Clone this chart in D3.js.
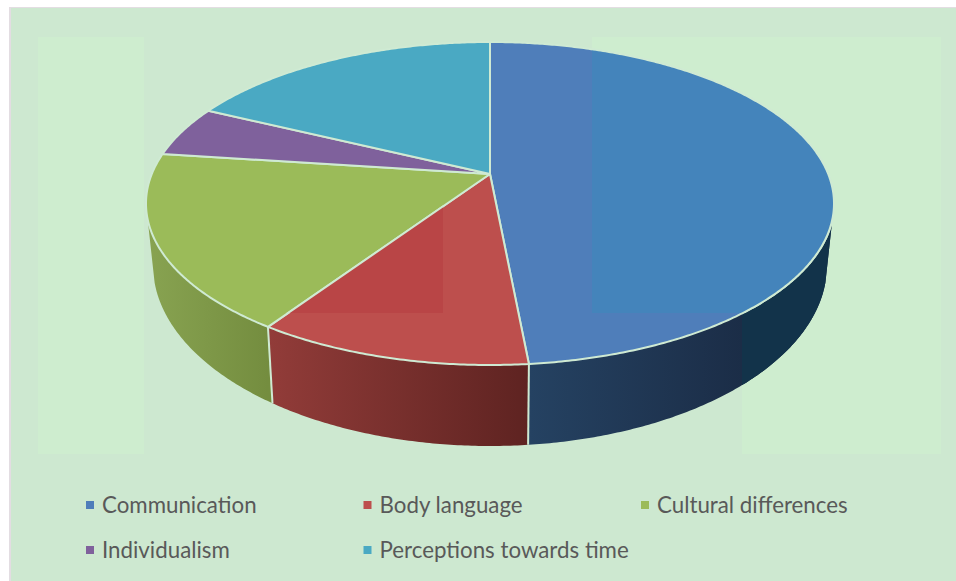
<!DOCTYPE html>
<html>
<head>
<meta charset="utf-8">
<script src="https://cdn.jsdelivr.net/npm/d3@7"></script>
<style>
  html, body { margin: 0; padding: 0; background: #fff; overflow: hidden; }
  svg { display: block; }
  text { font-family: Lato, "Open Sans", sans-serif; }
</style>
</head>
<body>
<svg id="chart"></svg>
<script>
const categories = ['Communication', 'Body language', 'Cultural differences', 'Individualism', 'Perceptions towards time'];
const values = [48.5, 10.9, 17.7, 5.1, 17.8];
const topColors = ['#4f7eba', '#bd4f4d', '#9bbb59', '#7f619c', '#4aa9c3'];
const wallLeftColors = ['#254262', '#923c39', '#88a351'];
const wallRightColors = ['#1b2d47', '#5e2321', '#748d3f'];

const svgWidth = 956;
const svgHeight = 581;
const bgColor = '#cde8d0';
const lightColor = '#ceedcf';
const lineColor = '#cfeAd3';
const lineWidth = 2;

// perspective: the top is an ellipse whose apex sits above its middle
const topRim = { cx: 490, cy: 203.5, rx: 344, ry: 161.5 };
const bottomRim = { cx: 490, cy: 265, rx: 337, ry: 181 };
const tilt = 0.1827;
const apex = [topRim.cx, topRim.cy - topRim.ry * tilt];
const wallStart = 106 * Math.PI / 180;
const wallEnd = 254 * Math.PI / 180;

const color = d3.scaleOrdinal(categories, topColors);
const pie = d3.pie().value(d => d.value).sort(null);
const slices = pie(categories.map((name, i) => ({ name, value: values[i] })));

function project(angle, rim) {
  const u = Math.sin(angle);
  const v = Math.cos(angle);
  const w = 1 + tilt * v;
  const x = Math.sqrt(1 - tilt * tilt) * u / w;
  const y = (v + tilt) / w;
  return [rim.cx + rim.rx * x, rim.cy - rim.ry * y];
}

function rimPoints(a0, a1, rim) {
  const step = Math.PI / 360;
  return d3.range(a0, a1, step).concat([a1]).map(a => project(a, rim));
}

const line = d3.line();
const topPath = s => line([apex].concat(rimPoints(s.startAngle, s.endAngle, topRim))) + 'Z';

const svg = d3.select('#chart')
  .attr('width', svgWidth)
  .attr('height', svgHeight);

const defs = svg.append('defs');

// backdrop
svg.append('rect').attr('x', 9).attr('y', 7).attr('width', svgWidth - 9).attr('height', svgHeight - 7)
  .attr('fill', '#e3dde2');
svg.append('rect').attr('x', 11).attr('y', 8).attr('width', svgWidth - 11).attr('height', svgHeight - 8)
  .attr('fill', bgColor);

const lightRects = [
  { x: 38, y: 37, width: 106, height: 417 },
  { x: 592, y: 37, width: 349, height: 276 },
  { x: 742, y: 313, width: 199, height: 141 }
];
svg.append('g').selectAll('rect')
  .data(lightRects)
  .enter().append('rect')
  .attr('x', d => d.x)
  .attr('y', d => d.y)
  .attr('width', d => d.width)
  .attr('height', d => d.height)
  .attr('fill', lightColor);

// side walls, only the slices that face the viewer
const walls = slices
  .map((s, i) => ({ i, a0: Math.max(s.startAngle, wallStart), a1: Math.min(s.endAngle, wallEnd) }))
  .filter(d => d.a1 > d.a0);

walls.forEach(d => {
  const xs = [project(d.a0, topRim)[0], project(d.a1, topRim)[0]];
  const grad = defs.append('linearGradient')
    .attr('id', `wall-${d.i}`)
    .attr('gradientUnits', 'userSpaceOnUse')
    .attr('x1', d3.min(xs)).attr('x2', d3.max(xs))
    .attr('y1', 0).attr('y2', 0);
  grad.append('stop').attr('offset', 0).attr('stop-color', wallLeftColors[d.i]);
  grad.append('stop').attr('offset', 1).attr('stop-color', wallRightColors[d.i]);
});

const wallPath = d => line(rimPoints(d.a0, d.a1, topRim).concat(rimPoints(d.a0, d.a1, bottomRim).reverse())) + 'Z';

// Communication's gradient stops at the tinted band, which is flat teal
const commGrad = defs.select('#wall-0');
commGrad.attr('x1', project(slices[0].endAngle, topRim)[0]).attr('x2', 742);

svg.append('g').selectAll('path')
  .data(walls)
  .enter().append('path')
  .attr('d', wallPath)
  .attr('fill', d => `url(#wall-${d.i})`);

defs.append('clipPath').attr('id', 'wall-tint')
  .append('rect').attr('x', 742).attr('y', 37).attr('width', 199).attr('height', 417);
svg.append('path')
  .datum(walls[0])
  .attr('d', wallPath)
  .attr('clip-path', 'url(#wall-tint)')
  .attr('fill', '#12334a');

// wall seams
svg.append('g').selectAll('line')
  .data(slices.filter(s => s.endAngle > wallStart && s.endAngle < wallEnd))
  .enter().append('line')
  .attr('x1', d => project(d.endAngle, topRim)[0])
  .attr('y1', d => project(d.endAngle, topRim)[1])
  .attr('x2', d => project(d.endAngle, bottomRim)[0])
  .attr('y2', d => project(d.endAngle, bottomRim)[1])
  .attr('stroke', lineColor)
  .attr('stroke-width', lineWidth);

// top face
svg.append('g').selectAll('path')
  .data(slices)
  .enter().append('path')
  .attr('d', topPath)
  .attr('fill', d => color(d.data.name))
  .attr('stroke', lineColor)
  .attr('stroke-width', lineWidth)
  .attr('stroke-linejoin', 'round');

// flat tints that lie over parts of the top face
const tints = [
  { slice: 0, fill: '#4484bb', x: 592, y: 30, width: 349, height: 283 },
  { slice: 1, fill: '#b94546', x: 260, y: 170, width: 183, height: 143 }
];
tints.forEach((t, i) => {
  defs.append('clipPath').attr('id', `tint-${i}`)
    .append('rect').attr('x', t.x).attr('y', t.y).attr('width', t.width).attr('height', t.height);
  svg.append('path')
    .attr('d', topPath(slices[t.slice]))
    .attr('clip-path', `url(#tint-${i})`)
    .attr('fill', t.fill)
    .attr('stroke', lineColor)
    .attr('stroke-width', lineWidth);
});

// legend
const legendX = d3.scalePoint().domain([0, 1, 2]).range([86, 641]);
const legendY = d3.scalePoint().domain([0, 1]).range([505, 550]);
const legend = svg.append('g').selectAll('g')
  .data(categories)
  .enter().append('g')
  .attr('transform', (d, i) => `translate(${legendX(i % 3)}, ${legendY(Math.floor(i / 3))})`);

legend.append('rect')
  .attr('x', 0).attr('y', -4)
  .attr('width', 8).attr('height', 8)
  .attr('fill', d => color(d));

legend.append('text')
  .attr('x', 16)
  .attr('y', 7.5)
  .attr('font-size', 22.3)
  .attr('fill', '#595959')
  .text(d => d);
</script>
</body>
</html>
